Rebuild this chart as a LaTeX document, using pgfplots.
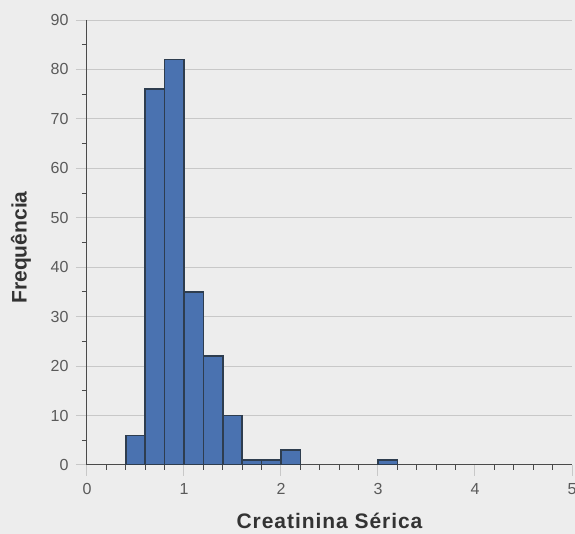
\documentclass[border=0pt]{standalone}
\usepackage{pgfplots}
\pgfplotsset{compat=1.18}
\usepackage{fontspec}
\setmainfont{Liberation Sans}
\definecolor{bg}{HTML}{EDEDED}
\definecolor{barblue}{HTML}{4A72B0}
\definecolor{baredge}{HTML}{2E3D4F}
\definecolor{gridc}{HTML}{C8C8C8}
\definecolor{axc}{HTML}{4A4A4A}
\definecolor{tickc}{HTML}{5A5A5A}
\begin{document}
\begin{tikzpicture}
\useasboundingbox[fill=bg] (-87pt,-69pt) rectangle (488pt,465pt);
\begin{axis}[
  at={(0pt,0pt)}, anchor=south west,
  scale only axis, width=485pt, height=445pt,
  xmin=0, xmax=5, ymin=0, ymax=90,
  axis lines*=left,
  axis line style={axc, line width=1pt},
  xtick={0,1,2,3,4,5}, minor x tick num=4,
  ytick={0,10,...,90}, minor y tick num=1,
  tick align=outside,
  major tick length=11pt, minor tick length=5pt,
  major tick style={gridc, line width=1pt},
  minor tick style={axc, line width=1pt},
  ymajorgrids, grid style={gridc, line width=1pt},
  /pgf/number format/assume math mode=true,
  ticklabel style={font=\fontsize{16}{18}\selectfont, text=tickc},
  xticklabel style={yshift=-4pt},
  yticklabel style={xshift=-4pt},
  xlabel={Creatinina Sérica}, ylabel={Frequência},
  label style={font=\bfseries\fontsize{21}{24}\selectfont, text=black!80},
  xlabel style={at={(axis description cs:0.5,0)}, anchor=center, yshift=-56pt, font=\bfseries\fontsize{21}{24}\selectfont\addfontfeatures{LetterSpace=4.5}},
  ylabel style={at={(axis description cs:0,0.5)}, anchor=center, yshift=66pt, xshift=-5pt},
]
\addplot[ybar, bar width=0.2, bar shift=0pt, fill=barblue, draw=baredge, line width=1.6pt]
  coordinates {(0.5,6) (0.7,76) (0.9,82) (1.1,35) (1.3,22) (1.5,10) (1.7,1) (1.9,1) (2.1,3) (3.1,1)};
\end{axis}
\end{tikzpicture}
\end{document}
